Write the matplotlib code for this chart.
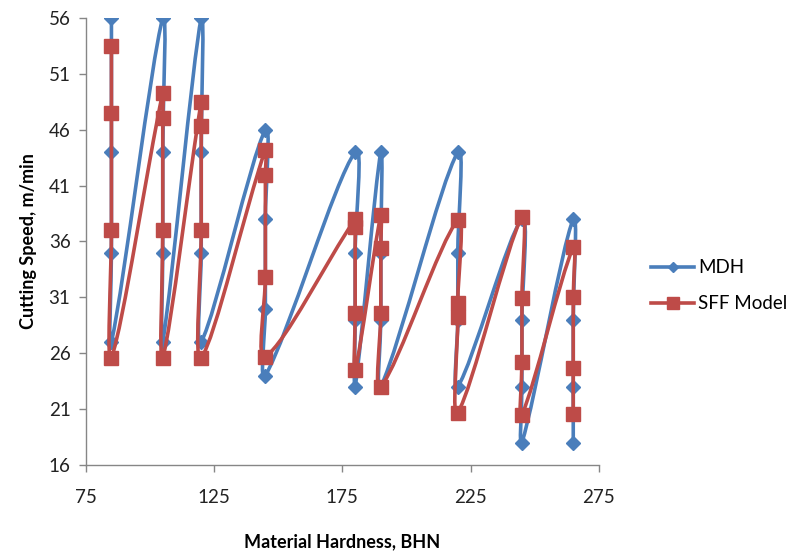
import matplotlib
matplotlib.use("Agg")
import matplotlib.pyplot as plt
from matplotlib.path import Path
from matplotlib.patches import PathPatch
from matplotlib.lines import Line2D
import numpy as np

plt.rcParams['font.family'] = ['Lato', 'DejaVu Sans']

# hardness of each test material, BHN
hardness = [85, 105, 120, 145, 180, 190, 220, 245, 265]

# cutting speeds (m/min), four per material
mdh_speed = [
    [56, 44, 35, 27],
    [56, 44, 35, 27],
    [56, 44, 35, 27],
    [46, 38, 30, 24],
    [44, 35, 29, 23],
    [44, 35, 29, 23],
    [44, 35, 29, 23],
    [38, 29, 23, 18],
    [38, 29, 23, 18],
]
sff_speed = [
    [53.5, 47.5, 37.0, 25.6],
    [49.3, 47.0, 37.0, 25.6],
    [48.5, 46.3, 37.0, 25.6],
    [44.2, 41.9, 32.8, 25.7],
    [38.0, 37.3, 29.6, 24.5],
    [38.4, 35.4, 29.6, 23.0],
    [37.9, 30.5, 29.2, 20.7],
    [38.2, 30.9, 25.2, 20.5],
    [35.5, 31.0, 24.7, 20.6],
]

series_names = ['MDH', 'SFF Model']
colors = ['#4A7EBB', '#BE4B48']
markers = ['D', 's']
marker_sizes = [7, 10]


def flatten(groups):
    xs, ys = [], []
    for h, speeds in zip(hardness, groups):
        for s in speeds:
            xs.append(h)
            ys.append(s)
    return np.array(xs, float), np.array(ys, float)


def smooth_path(ax, x, y):
    # smoothed line like Excel: Bezier segments, tangents scaled by chord length
    pts = ax.transData.transform(np.column_stack([x, y]))
    n = len(pts)
    verts = [pts[0]]
    codes = [Path.MOVETO]

    def tangent(i):
        if i == 0 or i == n - 1:
            return np.zeros(2), 1.0
        d0 = np.hypot(*(pts[i] - pts[i - 1]))
        d1 = np.hypot(*(pts[i + 1] - pts[i]))
        return pts[i + 1] - pts[i - 1], d0 + d1

    for i in range(n - 1):
        p1, p2 = pts[i], pts[i + 1]
        seg = np.hypot(*(p2 - p1))
        t1, s1 = tangent(i)
        t2, s2 = tangent(i + 1)
        c1 = p1 + t1 * seg / s1 / 3.0
        c2 = p2 - t2 * seg / s2 / 3.0
        verts += [c1, c2, p2]
        codes += [Path.CURVE4] * 3
    verts = ax.transData.inverted().transform(np.array(verts))
    return Path(verts, codes)


fig = plt.figure(figsize=(7.87, 5.55), dpi=100)
ax = fig.add_axes([0.109, 0.162, 0.652, 0.806])
ax.set_xlim(75, 275)
ax.set_ylim(16, 56)

handles = []
for k, groups in enumerate([mdh_speed, sff_speed]):
    x, y = flatten(groups)
    patch = PathPatch(smooth_path(ax, x, y), facecolor='none', edgecolor=colors[k],
                      lw=2.6, zorder=2 + 2 * k, capstyle='round', joinstyle='round')
    ax.add_patch(patch)
    ax.plot(x, y, ls='none', marker=markers[k], ms=marker_sizes[k],
            color=colors[k], mec=colors[k], zorder=3 + 2 * k)
    handles.append(Line2D([], [], color=colors[k], lw=2.6, marker=markers[k],
                          ms=marker_sizes[k] * 0.8, label=series_names[k]))

ax.set_xticks(np.arange(75, 276, 50))
ax.set_yticks(np.arange(16, 57, 5))

for side in ['top', 'right']:
    ax.spines[side].set_visible(False)
for side in ['left', 'bottom']:
    ax.spines[side].set_color('#868686')
    ax.spines[side].set_linewidth(1.0)
ax.tick_params(axis='both', direction='out', length=5, width=1.0, color='#868686',
               labelsize=13.5, labelcolor='#222222')
ax.tick_params(axis='x', pad=12)
ax.tick_params(axis='y', pad=6)

ax.set_xlabel('Material Hardness, BHN', fontsize=13, fontweight='bold', labelpad=20)
ax.set_ylabel('Cutting Speed, m/min', fontsize=13, fontweight='bold', labelpad=8)

fig.legend(handles=handles, loc='center left', bbox_to_anchor=(0.818, 0.485),
           frameon=False, fontsize=13.5, handlelength=2.3, handletextpad=0.2,
           labelspacing=1.0, borderaxespad=0)

fig.savefig('out.png', dpi=100)
